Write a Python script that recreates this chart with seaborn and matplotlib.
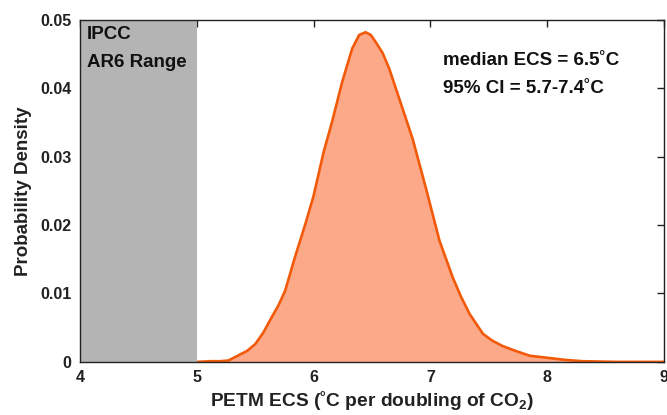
import matplotlib
matplotlib.use("Agg")
import matplotlib.pyplot as plt
import seaborn as sns
import pandas as pd

# Data
ecs = [4.0, 4.9, 5.0, 5.12, 5.20, 5.27, 5.35, 5.43, 5.50, 5.57, 5.64, 5.70, 5.756, 5.84,
       5.93, 6.00, 6.086, 6.158, 6.244, 6.33, 6.39, 6.445, 6.49, 6.53, 6.59, 6.647,
       6.733, 6.848, 6.963, 7.078, 7.19, 7.26, 7.336, 7.45, 7.53, 7.62, 7.73, 7.85,
       8.0, 8.15, 8.30, 8.6, 9.0]
density = [0.0, 0.0, 0.0, 0.0001, 0.0001, 0.0002, 0.0009, 0.0016, 0.0026, 0.0043,
           0.0065, 0.0083, 0.0104, 0.0153, 0.0202, 0.0243, 0.0307, 0.0351, 0.0409,
           0.0458, 0.0478, 0.0482, 0.0478, 0.0468, 0.0452, 0.0429, 0.0385, 0.0326,
           0.0253, 0.0177, 0.0124, 0.0096, 0.0070, 0.0041, 0.0031, 0.0023, 0.0016,
           0.0009, 0.0006, 0.0003, 0.0001, 0.0, 0.0]
ipcc_range = [4.0, 5.0]
xticks = [4, 5, 6, 7, 8, 9]
yticks = [0, 0.01, 0.02, 0.03, 0.04, 0.05]
ytick_labels = ["0", "0.01", "0.02", "0.03", "0.04", "0.05"]

sns.set_style("white")
plt.rcParams["font.family"] = ["Liberation Sans", "DejaVu Sans"]
plt.rcParams["font.weight"] = "bold"
plt.rcParams["mathtext.fontset"] = "custom"
plt.rcParams["mathtext.rm"] = "Liberation Sans:bold"
plt.rcParams["mathtext.it"] = "Liberation Sans:bold"
plt.rcParams["mathtext.bf"] = "Liberation Sans:bold"
plt.rcParams["mathtext.default"] = "bf"

df = pd.DataFrame({"ecs": ecs, "density": density})

fig = plt.figure(figsize=(6.67, 4.15), dpi=100)
ax = fig.add_axes([0.12, 0.128, 0.8755, 0.824])

line_col = "#F25A0A"
fill_col = "#FCA98A"
ax.fill_between(df["ecs"], df["density"], color=fill_col, zorder=1, linewidth=0)
sns.lineplot(data=df, x="ecs", y="density", ax=ax, color=line_col, linewidth=1.9,
             zorder=2, sort=False)
ax.axvspan(ipcc_range[0], ipcc_range[1], color="#B5B4B5", zorder=3, linewidth=0)

ax.set_xlim(4, 9)
ax.set_ylim(0, 0.05)
ax.set_xticks(xticks)
ax.set_xticklabels([str(t) for t in xticks])
ax.set_yticks(yticks)
ax.set_yticklabels(ytick_labels)
ax.tick_params(axis="both", direction="in", length=5, width=1, labelsize=11.5,
               top=True, right=True, color="#222222", labelcolor="#222222", pad=6)
for lab in ax.get_xticklabels() + ax.get_yticklabels():
    lab.set_fontweight("bold")
for sp in ax.spines.values():
    sp.set_color("#222222")
    sp.set_linewidth(1.0)
    sp.set_zorder(4)

ax.set_xlabel("PETM ECS (˚C per doubling of CO$_2$)", fontsize=13.8, fontweight="bold",
              color="#222222", labelpad=3)
ax.set_ylabel("Probability Density", fontsize=13.5, fontweight="bold", color="#222222",
              labelpad=6)

ax.text(4.06, 0.0478, "IPCC", fontsize=13.5, fontweight="bold", color="#111111",
        va="center", ha="left", zorder=5)
ax.text(4.06, 0.0438, "AR6 Range", fontsize=13.5, fontweight="bold", color="#111111",
        va="center", ha="left", zorder=5)
ax.text(7.11, 0.0440, "median ECS = 6.5˚C", fontsize=13.5, fontweight="bold",
        color="#111111", va="center", ha="left", zorder=5)
ax.text(7.11, 0.0400, "95% CI = 5.7-7.4˚C", fontsize=13.5, fontweight="bold",
        color="#111111", va="center", ha="left", zorder=5)

fig.savefig("out.png", dpi=100)
